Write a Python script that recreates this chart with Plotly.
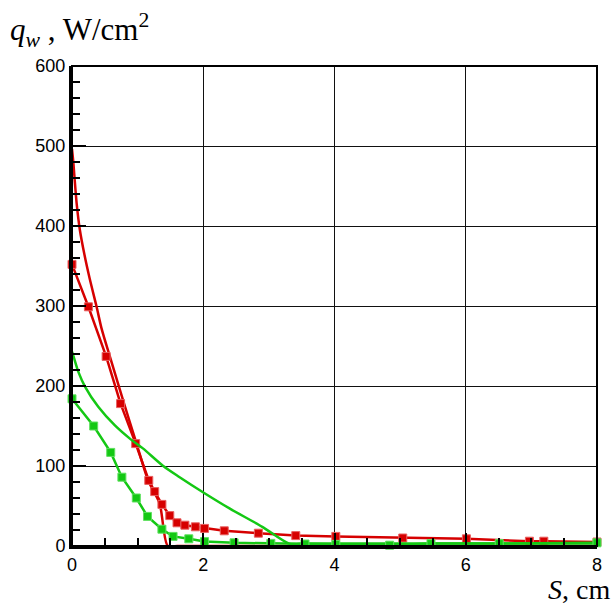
import plotly.graph_objects as go

# Wall heat flux q_w (W/cm^2) along the surface coordinate S (cm)

# Red, smooth curve (no markers)
red_curve_s = [0.0, 0.02, 0.035, 0.07, 0.12, 0.19, 0.27, 0.375, 0.45, 0.58, 0.79, 0.98, 1.16, 1.335, 1.46, 1.6, 8.0]
red_curve_q = [496, 480, 464, 429, 395, 364, 334, 299, 272, 236, 179, 129, 82, 53, 0, 0, 0]

# Red, with square markers
red_pts_s = [0.0, 0.25, 0.52, 0.74, 0.97, 1.17, 1.26, 1.37, 1.49, 1.6, 1.72, 1.88, 2.02,
             2.32, 2.84, 3.41, 4.02, 5.04, 6.01, 6.97, 7.19, 8.0]
red_pts_q = [352, 299, 237, 178, 128, 82, 68, 52, 38, 29, 26, 24, 22,
             19, 16, 13, 12, 10, 9, 6, 6, 5]

# Green, smooth curve (no markers)
green_curve_s = [0.0, 0.02, 0.1, 0.2, 0.4, 0.65, 0.9, 1.08, 1.39, 1.64, 2.02, 2.4, 2.9, 3.31, 3.5, 8.0]
green_curve_q = [243, 238, 217, 199, 174, 151, 133, 122, 100, 86, 66, 47, 24, 3, 3, 3]

# Green, with square markers
green_pts_s = [0.0, 0.33, 0.59, 0.76, 0.98, 1.15, 1.37, 1.54, 1.78, 2.02, 2.47,
               3.03, 3.55, 4.02, 4.84, 5.47, 6.51, 8.0]
green_pts_q = [184, 150, 117, 86, 60, 37, 21, 12, 9, 5.5, 4,
               3.3, 2.5, 2, 1, 3, 3, 4]

x_ticks = [0, 2, 4, 6, 8]
y_ticks = [0, 100, 200, 300, 400, 500, 600]

RED = "#d60000"
GREEN = "#14c814"

fig = go.Figure()

fig.add_trace(go.Scatter(x=red_curve_s, y=red_curve_q, mode="lines",
                         line=dict(color=RED, width=2.5, shape="spline", smoothing=0.8),
                         showlegend=False))
fig.add_trace(go.Scatter(x=red_pts_s, y=red_pts_q, mode="lines+markers",
                         line=dict(color=RED, width=2.5),
                         marker=dict(symbol="square", size=8, color=RED,
                                     line=dict(color="#e86060", width=1)),
                         cliponaxis=False, showlegend=False))
fig.add_trace(go.Scatter(x=green_curve_s, y=green_curve_q, mode="lines",
                         line=dict(color=GREEN, width=2.5, shape="spline", smoothing=0.8),
                         showlegend=False))
fig.add_trace(go.Scatter(x=green_pts_s, y=green_pts_q, mode="lines+markers",
                         line=dict(color=GREEN, width=2.5),
                         marker=dict(symbol="square", size=8, color=GREEN,
                                     line=dict(color="#60e060", width=1)),
                         cliponaxis=False, showlegend=False))

tick_font = dict(family="Liberation Sans, Arial, sans-serif", size=18, color="black")

fig.update_xaxes(
    range=[0, 8], tickvals=x_ticks, ticktext=[str(v) for v in x_ticks],
    showgrid=True, gridcolor="#111111", gridwidth=1, zeroline=False,
    showline=True, linecolor="black", linewidth=3,
    ticks="inside", ticklen=13, tickwidth=2, tickcolor="black",
    minor=dict(dtick=0.5, tick0=0, ticks="inside", ticklen=8, tickwidth=1.5,
               tickcolor="black", showgrid=False),
    tickfont=tick_font,
)
fig.update_yaxes(
    range=[0, 600], tickvals=y_ticks, ticktext=[str(v) for v in y_ticks],
    showgrid=True, gridcolor="#111111", gridwidth=1, zeroline=False,
    showline=True, linecolor="black", linewidth=3,
    ticks="inside", ticklen=14, tickwidth=2, tickcolor="black",
    minor=dict(dtick=20, tick0=0, ticks="inside", ticklen=8, tickwidth=1.5,
               tickcolor="black", showgrid=False),
    tickfont=tick_font,
)

# Plot frame (top and right edges)
fig.add_shape(type="rect", xref="paper", yref="paper", x0=0, x1=1, y0=0, y1=1,
              line=dict(color="black", width=2), layer="above")

title_font = dict(family="Liberation Serif, Times New Roman, serif", size=31, color="black")
fig.add_annotation(text="<i>q</i><sub><i>w</i></sub> , W/cm<sup>2</sup>",
                   xref="paper", yref="paper", x=-0.122, y=1.0,
                   xanchor="left", yanchor="bottom", yshift=12,
                   showarrow=False, font=title_font)
fig.add_annotation(text="<i>S</i>, cm",
                   xref="paper", yref="paper", x=1.027, y=0.0,
                   xanchor="right", yanchor="top", yshift=-27,
                   showarrow=False, borderpad=0,
                   font=dict(family="Liberation Serif, Times New Roman, serif", size=28, color="black"))

fig.update_layout(
    width=614, height=608,
    margin=dict(l=72, r=15, t=66, b=62),
    paper_bgcolor="white", plot_bgcolor="white",
)

fig.write_html("out.html")
